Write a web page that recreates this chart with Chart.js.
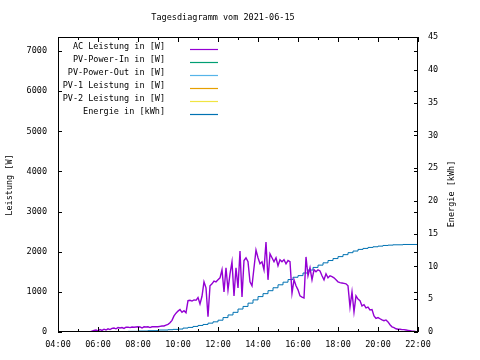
<!DOCTYPE html>
<html>
<head>
<meta charset="utf-8">
<script src="https://cdn.jsdelivr.net/npm/chart.js@4/dist/chart.umd.min.js"></script>
<style>
  body { margin: 0; background: #fff; }
  canvas { display: block; }
</style>
</head>
<body>
<canvas id="myChart" width="480" height="360"></canvas>
<script>
'use strict';

/* data */
const chartTitle = 'Tagesdiagramm vom 2021-06-15';

const seriesNames = ['AC Leistung in [W]', 'PV-Power-In in [W]', 'PV-Power-Out in [W]',
    'PV-1 Leistung in [W]', 'PV-2 Leistung in [W]', 'Energie in [kWh]'];
const seriesColors = ['#9400d3', '#009e73', '#56b4e9', '#e69f00', '#f0e442', '#0072b2'];

// AC power, one value every 6 minutes from 05:36
const acStart = '05:36';
const acPower = [
    0, 20, 40, 50, 30, 60, 40, 70, 50, 80,
    60, 90, 100, 80, 110, 100, 110, 90, 120, 120,
    110, 125, 120, 125, 130, 125, 100, 130, 125, 130,
    110, 130, 130, 135, 130, 140, 150, 150, 170, 190,
    230, 290, 400, 470, 520, 560, 490, 530, 480, 780,
    790, 770, 800, 790, 860, 700, 890, 1250, 1100, 380,
    1150, 1200, 1270, 1250, 1300, 1350, 1550, 1000, 1600, 1050,
    1450, 1750, 900, 1600, 1100, 2020, 870, 1780, 1850, 1750,
    1250, 1150, 1600, 2040, 1850, 1700, 1750, 1550, 2240, 1300,
    1950, 1850, 1750, 1850, 1650, 1800, 1750, 1800, 1700, 1780,
    1750, 970, 1300, 1150, 1050, 900, 870, 850, 1870, 1400,
    1600, 1300, 1550, 1500, 1550, 1520, 1400, 1300, 1450, 1350,
    1400, 1380, 1350, 1300, 1250, 1230, 1220, 1210, 1200, 1150,
    620, 1000, 500, 900, 820, 780, 650, 680, 600, 620,
    550, 560, 400, 340, 360, 330, 300, 280, 300, 250,
    180, 130, 110, 80, 70, 70, 60, 60, 50, 40,
    30, 20, 20, 10, 5
];

// energy in kWh, one value every 15 minutes from 06:45
const energyStart = '06:45';
const energy = [
    0.0, 0.05, 0.05, 0.1, 0.1, 0.15, 0.15, 0.2, 0.2, 0.3,
    0.3, 0.35, 0.4, 0.45, 0.6, 0.7, 0.85, 1.0, 1.15, 1.35,
    1.55, 1.8, 2.2, 2.6, 3.0, 3.5, 3.9, 4.4, 4.9, 5.4,
    5.85, 6.3, 6.75, 7.2, 7.6, 8.0, 8.35, 8.6, 9.0, 9.45,
    9.85, 10.2, 10.55, 10.9, 11.2, 11.5, 11.8, 12.1, 12.35, 12.6,
    12.75, 12.9, 13.0, 13.1, 13.2, 13.25, 13.3, 13.3, 13.35, 13.35,
    13.35, 13.35
];

const powerTicks = [0, 1000, 2000, 3000, 4000, 5000, 6000, 7000];
const energyTicks = [0, 5, 10, 15, 20, 25, 30, 35, 40, 45];
const hourTicks = ['04:00', '06:00', '08:00', '10:00', '12:00', '14:00', '16:00', '18:00', '20:00', '22:00'];

/* helpers */
function toHours(hhmm) {
    const parts = hhmm.split(':');
    return Number(parts[0]) + Number(parts[1]) / 60;
}

function toPoints(start, stepMinutes, values) {
    const t0 = toHours(start);
    return values.map(function(v, i) {
        return { x: t0 + i * stepMinutes / 60, y: v };
    });
}

const FONT = '8.5px "DejaVu Sans Mono", "Liberation Mono", monospace';

/* gnuplot look: frame, inward ticks, labels, title, legend */
const gnuplotFrame = {
    id: 'gnuplotFrame',
    afterDraw: function(chart) {
        const ctx = chart.ctx;
        const area = chart.chartArea;
        const xs = chart.scales.x;
        const ys = chart.scales.y;
        const ys1 = chart.scales.y1;

        ctx.save();
        ctx.strokeStyle = '#000';
        ctx.lineWidth = 1;
        ctx.strokeRect(area.left + 0.5, area.top + 0.5, area.right - area.left - 1, area.bottom - area.top - 1);

        ctx.beginPath();
        // hour ticks top and bottom
        for (let h = 4; h <= 22; h++) {
            const px = Math.round(xs.getPixelForValue(h)) + 0.5;
            const len = (h % 2 === 0) ? 5 : 3;
            ctx.moveTo(px, area.bottom);
            ctx.lineTo(px, area.bottom - len);
            ctx.moveTo(px, area.top);
            ctx.lineTo(px, area.top + len);
        }
        // power ticks left, mirrored right
        for (let v of powerTicks) {
            const py = Math.round(ys.getPixelForValue(v)) + 0.5;
            ctx.moveTo(area.left, py);
            ctx.lineTo(area.left + 4, py);
            ctx.moveTo(area.right, py);
            ctx.lineTo(area.right - 4, py);
        }
        // energy ticks right
        for (let v of energyTicks) {
            const py = Math.round(ys1.getPixelForValue(v)) + 0.5;
            ctx.moveTo(area.right, py);
            ctx.lineTo(area.right - 4, py);
        }
        ctx.stroke();

        ctx.fillStyle = '#000';
        ctx.font = FONT;
        ctx.textBaseline = 'middle';

        ctx.textAlign = 'right';
        for (let v of powerTicks) {
            ctx.fillText(String(v), area.left - 11, ys.getPixelForValue(v));
        }
        ctx.textAlign = 'left';
        for (let v of energyTicks) {
            ctx.fillText(String(v), area.right + 10, ys1.getPixelForValue(v));
        }
        ctx.textAlign = 'center';
        for (let label of hourTicks) {
            ctx.fillText(label, xs.getPixelForValue(toHours(label)), area.bottom + 13);
        }

        // title
        ctx.fillText(chartTitle, 223, 18);

        // axis titles
        ctx.save();
        ctx.translate(10, 185);
        ctx.rotate(-Math.PI / 2);
        ctx.fillText('Leistung [W]', 0, 0);
        ctx.restore();
        ctx.save();
        ctx.translate(452, 194);
        ctx.rotate(-Math.PI / 2);
        ctx.fillText('Energie [kWh]', 0, 0);
        ctx.restore();

        // legend
        for (let i = 0; i < seriesNames.length; i++) {
            const rowY = 49 + i * 13;
            ctx.fillStyle = '#000';
            ctx.textAlign = 'right';
            ctx.fillText(seriesNames[i], 165, rowY - 2);
            ctx.strokeStyle = seriesColors[i];
            ctx.lineWidth = 1.2;
            ctx.beginPath();
            ctx.moveTo(190, rowY + 0.5);
            ctx.lineTo(218, rowY + 0.5);
            ctx.stroke();
        }
        ctx.restore();
    }
};

const datasets = [
    {
        label: seriesNames[0],
        data: toPoints(acStart, 6, acPower),
        borderColor: seriesColors[0],
        borderWidth: 1.4,
        yAxisID: 'y',
    },
    { label: seriesNames[1], data: [], borderColor: seriesColors[1], yAxisID: 'y' },
    { label: seriesNames[2], data: [], borderColor: seriesColors[2], yAxisID: 'y' },
    { label: seriesNames[3], data: [], borderColor: seriesColors[3], yAxisID: 'y' },
    { label: seriesNames[4], data: [], borderColor: seriesColors[4], yAxisID: 'y' },
    {
        label: seriesNames[5],
        data: toPoints(energyStart, 15, energy),
        borderColor: seriesColors[5],
        borderWidth: 1,
        stepped: true,
        yAxisID: 'y1',
    }
];

var ctx = document.getElementById('myChart').getContext('2d');

var chart = new Chart(ctx, {
    type: 'line',
    data: { datasets: datasets },
    options: {
        responsive: false,
        animation: false,
        devicePixelRatio: 1,
        layout: { padding: { left: 58, right: 62, top: 37, bottom: 28 } },
        elements: { point: { radius: 0 }, line: { tension: 0 } },
        plugins: {
            legend: { display: false },
            tooltip: { enabled: false },
            title: { display: false }
        },
        scales: {
            x: { type: 'linear', min: 4, max: 22, display: false },
            y: { type: 'linear', min: 0, max: 7350, display: false },
            y1: { type: 'linear', min: 0, max: 45, display: false, position: 'right' }
        }
    },
    plugins: [gnuplotFrame]
});
</script>
</body>
</html>
